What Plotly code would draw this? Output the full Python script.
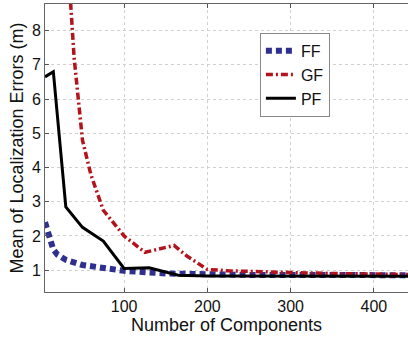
import plotly.graph_objects as go

# Mean localization error versus number of mixture components
ff_x = [5, 10, 15, 20, 30, 50, 75, 100, 150, 200, 250, 300, 350, 400, 445]
ff_y = [2.4, 2.0, 1.6, 1.45, 1.3, 1.15, 1.05, 0.98, 0.9, 0.87, 0.86, 0.86, 0.85, 0.85, 0.85]

gf_x = [30, 40, 50, 60, 75, 100, 125, 150, 160, 175, 200, 225, 250, 300, 350, 400, 445]
gf_y = [11.0, 7.2, 4.8, 3.8, 2.75, 2.0, 1.52, 1.66, 1.72, 1.42, 1.02, 0.98, 0.97, 0.93, 0.9, 0.88, 0.87]

pf_x = [5, 15, 30, 50, 75, 100, 130, 165, 200, 250, 300, 350, 400, 445]
pf_y = [6.65, 6.8, 2.85, 2.25, 1.85, 1.05, 1.07, 0.85, 0.83, 0.83, 0.82, 0.82, 0.82, 0.82]

x_ticks = [100, 200, 300, 400]
y_ticks = [1, 2, 3, 4, 5, 6, 7, 8]

font = "Liberation Sans, Arial, sans-serif"

fig = go.Figure()
fig.add_trace(go.Scatter(x=ff_x, y=ff_y, name="FF", mode="lines",
                         line=dict(color="#2f2f8f", width=6, dash="6px,4px")))
fig.add_trace(go.Scatter(x=gf_x, y=gf_y, name="GF", mode="lines",
                         line=dict(color="#b3141c", width=3.5, dash="7px,3px,2px,3px")))
fig.add_trace(go.Scatter(x=pf_x, y=pf_y, name="PF", mode="lines",
                         line=dict(color="#000000", width=3)))

fig.update_layout(
    width=408, height=338,
    margin=dict(l=45, r=0, t=4, b=46),
    paper_bgcolor="white", plot_bgcolor="white",
    font=dict(family=font, size=16, color="#111"),
    legend=dict(x=0.592, y=0.9, xanchor="left", yanchor="top",
                bgcolor="white", bordercolor="#888", borderwidth=1,
                font=dict(size=16), itemwidth=30, tracegroupgap=0),
)
fig.update_xaxes(
    range=[5, 441], tickvals=x_ticks, ticks="inside", ticklen=4,
    tickcolor="#555", showline=True, linecolor="#666", linewidth=1,
    mirror="ticks", showgrid=True, gridcolor="#d0d0d0", griddash="dot",
    gridwidth=1, zeroline=False,
    title=dict(text="Number of Components", standoff=0, font=dict(size=18)),
    tickfont=dict(size=16),
)
fig.update_yaxes(
    range=[0.36, 8.78], tickvals=y_ticks, ticks="inside", ticklen=4,
    tickcolor="#555", showline=True, linecolor="#666", linewidth=1,
    mirror=False, showgrid=True, gridcolor="#d0d0d0", griddash="dot",
    gridwidth=1, zeroline=False,
    title=dict(text="Mean of Localization Errors (m)", standoff=3, font=dict(size=18)),
    tickfont=dict(size=16),
)

fig.write_html("out.html")
